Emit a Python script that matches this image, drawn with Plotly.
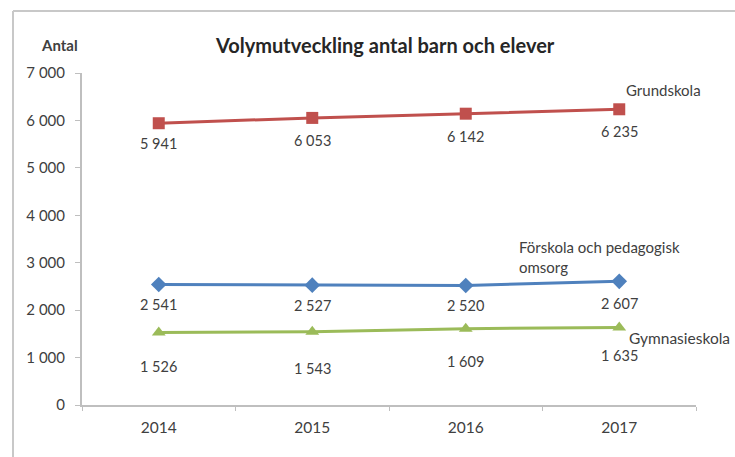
import plotly.graph_objects as go

years = ["2014", "2015", "2016", "2017"]
grundskola = [5941, 6053, 6142, 6235]
forskola = [2541, 2527, 2520, 2607]
gymnasieskola = [1526, 1543, 1609, 1635]
ytick_vals = [0, 1000, 2000, 3000, 4000, 5000, 6000, 7000]
ytick_text = ["0", "1 000", "2 000", "3 000", "4 000", "5 000", "6 000", "7 000"]

FONT = "Lato"
TXT = "#404040"

def fmt(v):
    return f"{v:,}".replace(",", " ")

series = [
    ("Grundskola", grundskola, "#C0504D", "square", 12, [20, 23, 23, 22]),
    ("Förskola och pedagogisk omsorg", forskola, "#4F81BD", "diamond", 12, [20, 20, 20, 22]),
    ("Gymnasieskola", gymnasieskola, "#9BBB59", "triangle-up", 12, [34, 37, 33, 28]),
]

W, H = 735, 457
L, R, T, B = 82, 39, 73, 52
pw, ph = W - L - R, H - T - B
def px(x):
    return (x - L) / pw
def py(y):
    return (H - B - y) / ph

fig = go.Figure()
annotations = []
for name, vals, color, sym, msize, offs in series:
    fig.add_trace(go.Scatter(
        x=years, y=vals, mode="lines+markers", name=name,
        line=dict(color=color, width=3),
        marker=dict(symbol=sym, size=msize, color=color),
        showlegend=False,
    ))
    for i, (yr, v) in enumerate(zip(years, vals)):
        annotations.append(dict(
            x=i, y=v, xref="x", yref="y", text=fmt(v), showarrow=False,
            yshift=-offs[i], font=dict(family=FONT, size=14.5, color=TXT),
        ))

annotations += [
    dict(x=3.03, y=6641, xref="x", yref="y", text="Grundskola", showarrow=False,
         xanchor="left", font=dict(family=FONT, size=15, color=TXT)),
    dict(x=2.334, y=3120, xref="x", yref="y",
         text="Förskola och pedagogisk<br>omsorg", showarrow=False,
         xanchor="left", align="left", font=dict(family=FONT, size=15, color=TXT)),
    dict(x=3.05, y=1413, xref="x", yref="y", text="Gymnasieskola", showarrow=False,
         xanchor="left", font=dict(family=FONT, size=15.5, color=TXT)),
    dict(x=px(59), y=py(45), xref="paper", yref="paper", text="<b>Antal</b>", showarrow=False,
         xanchor="center", yanchor="middle", font=dict(family=FONT, size=15, color=TXT)),
    dict(x=px(385), y=py(45), xref="paper", yref="paper",
         text="<b>Volymutveckling antal barn och elever</b>",
         xanchor="center", yanchor="middle",
         showarrow=False, font=dict(family=FONT, size=20, color="#262626")),
]

shapes = [
    dict(type="line", xref="paper", yref="paper", x0=px(13), x1=px(13), y0=py(11), y1=py(470),
         line=dict(color="#C8C8C8", width=2)),
    dict(type="line", xref="paper", yref="paper", x0=px(13), x1=px(750), y0=py(11), y1=py(11),
         line=dict(color="#C8C8C8", width=2)),
]

fig.update_layout(
    width=W, height=H,
    margin=dict(l=L, r=R, t=T, b=B),
    paper_bgcolor="white", plot_bgcolor="white",
    font=dict(family=FONT, size=15, color=TXT),
    annotations=annotations, shapes=shapes,
    xaxis=dict(type="category", range=[-0.5, 3.5], showline=True, linecolor="#BFBFBF",
               linewidth=2, ticks="outside", tickson="boundaries", ticklen=4,
               tickcolor="#BFBFBF", showgrid=False, zeroline=False,
               ticklabelstandoff=7,
               tickfont=dict(family=FONT, size=15.5, color=TXT)),
    yaxis=dict(range=[0, 7000], tickvals=ytick_vals, ticktext=ytick_text,
               showline=True, linecolor="#BFBFBF", linewidth=2, ticks="outside",
               ticklen=5, tickcolor="#BFBFBF", showgrid=False, zeroline=False,
               ticklabelstandoff=7,
               tickfont=dict(family=FONT, size=15, color=TXT)),
)

fig.write_html("out.html", config={"displayModeBar": False},
               post_script="document.body.style.margin='0';document.body.style.overflow='hidden';")
